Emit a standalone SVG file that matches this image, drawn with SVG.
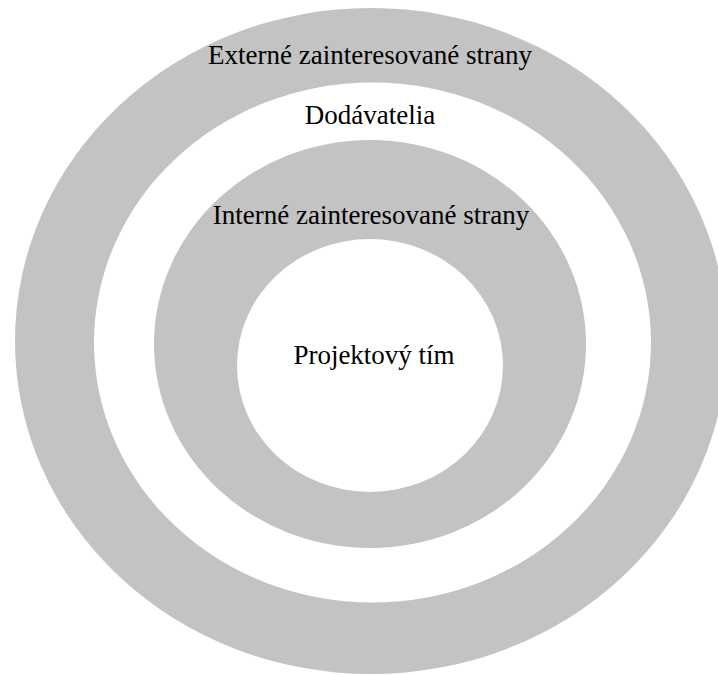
<svg xmlns="http://www.w3.org/2000/svg" width="718" height="675" viewBox="0 0 718 675">
  <style>
    .ring { fill: #c3c3c3; }
    .hole { fill: #ffffff; }
    .lbl { font-family: "Liberation Serif", "Times New Roman", serif; font-size: 27px; fill: #000000; text-anchor: middle; }
  </style>
  <rect x="0" y="0" width="718" height="675" fill="#ffffff"/>
  <g id="externe">
    <ellipse class="ring" cx="371" cy="341" rx="356" ry="333"/>
    <text class="lbl" x="370" y="64">Externé zainteresované strany</text>
  </g>
  <g id="dodavatelia">
    <ellipse class="hole" cx="372.5" cy="342.5" rx="278.5" ry="260"/>
    <text class="lbl" x="370" y="124">Dodávatelia</text>
  </g>
  <g id="interne">
    <ellipse class="ring" cx="370" cy="344" rx="216" ry="204"/>
    <text class="lbl" x="371" y="224">Interné zainteresované strany</text>
  </g>
  <g id="projektovy-tim">
    <ellipse class="hole" cx="370" cy="365.5" rx="133" ry="126.5"/>
    <text class="lbl" x="374" y="364">Projektový tím</text>
  </g>
</svg>
